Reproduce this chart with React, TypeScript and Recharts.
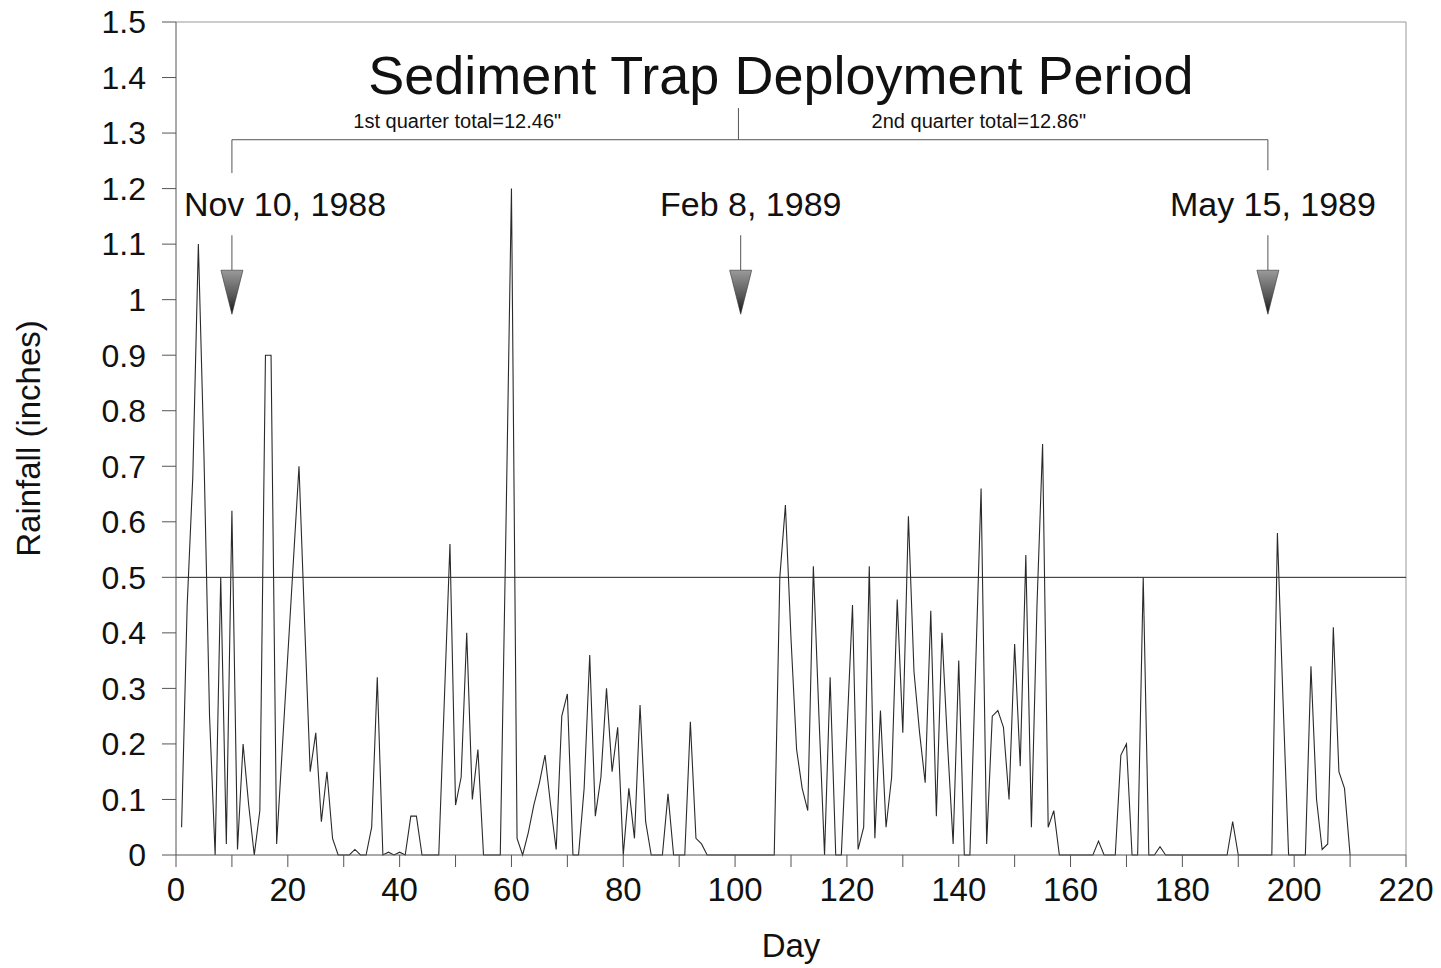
import React from 'react';
import { LineChart, Line, XAxis, YAxis, ReferenceLine, ReferenceDot } from 'recharts';

// Daily rainfall (inches), days 1..210
const rain001_030 = [
  0.05, 0.45, 0.68, 1.1, 0.72, 0.25, 0, 0.5, 0.02, 0.62,
  0.01, 0.2, 0.09, 0, 0.08, 0.9, 0.9, 0.02, 0.19, 0.36,
  0.53, 0.7, 0.42, 0.15, 0.22, 0.06, 0.15, 0.03, 0, 0,
];
const rain031_060 = [
  0, 0.01, 0, 0, 0.05, 0.32, 0, 0.005, 0, 0.005,
  0, 0.07, 0.07, 0, 0, 0, 0, 0.28, 0.56, 0.09,
  0.14, 0.4, 0.1, 0.19, 0, 0, 0, 0, 0.58, 1.2,
];
const rain061_090 = [
  0.03, 0, 0.04, 0.09, 0.13, 0.18, 0.09, 0.01, 0.25, 0.29,
  0, 0, 0.12, 0.36, 0.07, 0.14, 0.3, 0.15, 0.23, 0,
  0.12, 0.03, 0.27, 0.06, 0, 0, 0, 0.11, 0, 0,
];
const rain091_120 = [
  0, 0.24, 0.03, 0.02, 0, 0, 0, 0, 0, 0,
  0, 0, 0, 0, 0, 0, 0, 0.5, 0.63, 0.39,
  0.19, 0.12, 0.08, 0.52, 0.25, 0, 0.32, 0, 0, 0.22,
];
const rain121_150 = [
  0.45, 0.01, 0.05, 0.52, 0.03, 0.26, 0.05, 0.14, 0.46, 0.22,
  0.61, 0.33, 0.22, 0.13, 0.44, 0.07, 0.4, 0.2, 0.02, 0.35,
  0, 0, 0.33, 0.66, 0.02, 0.25, 0.26, 0.23, 0.1, 0.38,
];
const rain151_180 = [
  0.16, 0.54, 0.05, 0.45, 0.74, 0.05, 0.08, 0, 0, 0,
  0, 0, 0, 0, 0.025, 0, 0, 0, 0.18, 0.2,
  0, 0, 0.5, 0, 0, 0.015, 0, 0, 0, 0,
];
const rain181_210 = [
  0, 0, 0, 0, 0, 0, 0, 0, 0.06, 0,
  0, 0, 0, 0, 0, 0, 0.58, 0.28, 0, 0,
  0, 0, 0.34, 0.1, 0.01, 0.02, 0.41, 0.15, 0.12, 0,
];

const rainfall = [
  ...rain001_030, ...rain031_060, ...rain061_090, ...rain091_120,
  ...rain121_150, ...rain151_180, ...rain181_210,
];
const days = rainfall.map((_, i) => i + 1);

const xTicks = [0, 10, 20, 30, 40, 50, 60, 70, 80, 90, 100, 110, 120, 130, 140, 150, 160, 170, 180, 190, 200, 210, 220];
const yTicks = [0, 0.1, 0.2, 0.3, 0.4, 0.5, 0.6, 0.7, 0.8, 0.9, 1.0, 1.1, 1.2, 1.3, 1.4, 1.5];

// Deployment dates (day numbers) and labels
const deployDays = [10, 101, 195.3];
const deployLabels = ['Nov 10, 1988', 'Feb 8, 1989', 'May 15, 1989'];
const deployLabelDays = [19.5, 102.8, 196.2];
const bracketMidDay = 100.6;
const quarterLabels = ['1st quarter total=12.46"', '2nd quarter total=12.86"'];
const quarterLabelDays = [50.3, 143.6];
const titleText = 'Sediment Trap Deployment Period';

const data = days.map((d, i) => ({ day: d, rain: rainfall[i] }));

const FONT = '"Liberation Sans", Arial, Helvetica, sans-serif';

const makeText = (text: string, size: number) => (props: any) => (
  <text x={props.cx} y={props.cy} fontSize={size} textAnchor="middle" fill="#111" fontFamily={FONT}>
    {text}
  </text>
);

const makeArrow = (idx: number) => (props: any) => {
  const { cx, cy } = props;
  const id = `arrowGrad${idx}`;
  return (
    <g>
      <defs>
        <linearGradient id={id} x1="0" y1="0" x2="0" y2="1">
          <stop offset="0%" stopColor="#9a9a9a" />
          <stop offset="60%" stopColor="#555" />
          <stop offset="100%" stopColor="#111" />
        </linearGradient>
      </defs>
      <line x1={cx} y1={cy - 35} x2={cx} y2={cy} stroke="#555" strokeWidth={1} />
      <path d={`M${cx - 11},${cy} L${cx + 11},${cy} L${cx},${cy + 44} Z`} fill={`url(#${id})`} stroke="#333" strokeWidth={0.6} />
    </g>
  );
};

export default function App() {
  return (
    <div style={{ position: 'absolute', left: 0, top: 0, width: 1441, height: 968, background: '#fff', fontFamily: FONT }}>
      <LineChart width={1441} height={968} data={data} margin={{ top: 22, right: 35, bottom: 0, left: 0 }}>
        <XAxis
          dataKey="day"
          type="number"
          domain={[0, 220]}
          ticks={xTicks}
          tickFormatter={(v: number) => (v % 20 === 0 ? String(v) : '')}
          interval={0}
          height={113}
          tickSize={12}
          tickMargin={11}
          stroke="#555"
          tick={{ fontSize: 33, fill: '#111' }}
          label={{ value: 'Day', position: 'insideBottom', offset: 11, fontSize: 33, fill: '#111' }}
        />
        <YAxis
          type="number"
          domain={[0, 1.5]}
          ticks={yTicks}
          interval={0}
          tickFormatter={(v: number) => String(Number(v.toFixed(1)))}
          width={176}
          tickSize={14}
          tickMargin={16}
          stroke="#555"
          tick={{ fontSize: 32, fill: '#111' }}
          label={{ value: 'Rainfall (inches)', angle: -90, position: 'insideLeft', offset: 28, fontSize: 33, fill: '#111', style: { textAnchor: 'middle' } }}
        />
        <ReferenceLine y={1.5} stroke="#999" strokeWidth={1} ifOverflow="visible" />
        <ReferenceLine x={220} stroke="#999" strokeWidth={1} ifOverflow="visible" />
        <ReferenceLine y={0.5} stroke="#222" strokeWidth={1} />
        <ReferenceLine segment={[{ x: deployDays[0], y: 1.288 }, { x: deployDays[2], y: 1.288 }]} stroke="#555" strokeWidth={1} />
        <ReferenceLine segment={[{ x: deployDays[0], y: 1.288 }, { x: deployDays[0], y: 1.228 }]} stroke="#555" strokeWidth={1} />
        <ReferenceLine segment={[{ x: deployDays[2], y: 1.288 }, { x: deployDays[2], y: 1.233 }]} stroke="#555" strokeWidth={1} />
        <ReferenceLine segment={[{ x: bracketMidDay, y: 1.288 }, { x: bracketMidDay, y: 1.345 }]} stroke="#555" strokeWidth={1} />
        <Line
          type="linear"
          dataKey="rain"
          stroke="#2a2a2a"
          strokeWidth={1.1}
          dot={false}
          activeDot={false}
          isAnimationActive={false}
        />
        <ReferenceDot x={108.2} y={1.37} shape={makeText(titleText, 54)} />
        {quarterLabels.map((t, i) => (
          <ReferenceDot key={'q' + i} x={quarterLabelDays[i]} y={1.309} shape={makeText(t, 20)} />
        ))}
        {deployLabels.map((t, i) => (
          <ReferenceDot key={'d' + i} x={deployLabelDays[i]} y={1.151} shape={makeText(t, 34)} />
        ))}
        {deployDays.map((d, i) => (
          <ReferenceDot key={'a' + i} x={d} y={1.053} shape={makeArrow(i)} />
        ))}
      </LineChart>
    </div>
  );
}
